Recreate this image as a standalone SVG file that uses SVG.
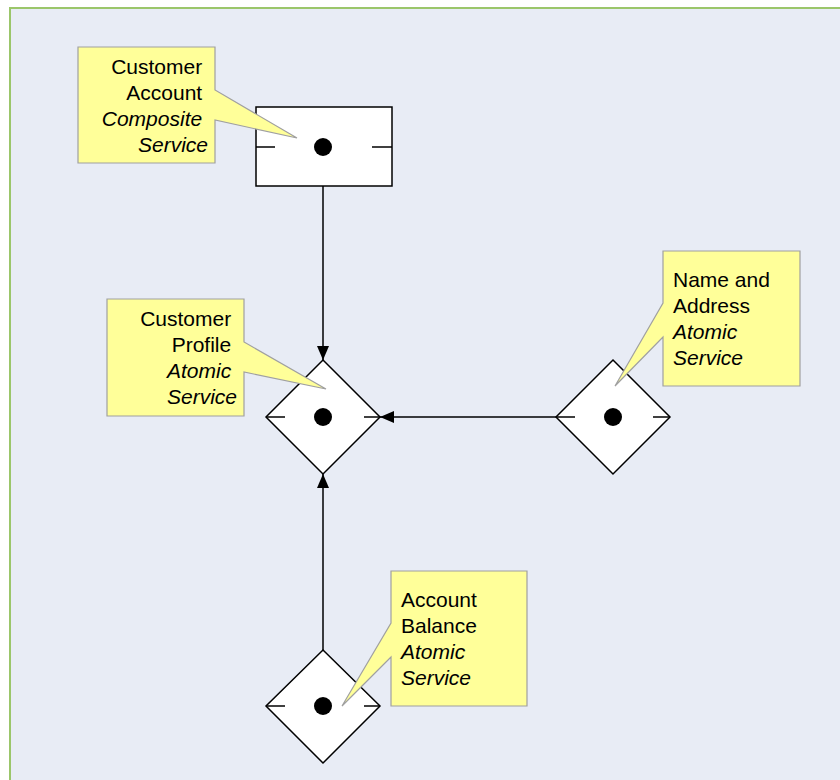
<svg xmlns="http://www.w3.org/2000/svg" width="840" height="780" viewBox="0 0 840 780">
  <style>
    .frame { fill: #e8ecf5; stroke: #9bc66a; stroke-width: 2; }
    .shape { fill: #ffffff; stroke: #000000; stroke-width: 1.5; }
    .tick { stroke: #000000; stroke-width: 1.5; fill: none; }
    .dot { fill: #000000; }
    .note { fill: #ffff99; stroke: #a0a0a0; stroke-width: 1.2; stroke-linejoin: miter; }
    .label { font-family: "Liberation Sans", Arial, sans-serif; font-size: 21px; fill: #000000; }
    .it { font-style: italic; }
    .link { stroke: #000000; stroke-width: 1.5; fill: none; marker-end: url(#arrow); }
  </style>
  <defs>
    <marker id="arrow" viewBox="0 0 14 12" refX="14" refY="6" markerWidth="14" markerHeight="12" markerUnits="userSpaceOnUse" orient="auto">
      <path d="M0,0 L14,6 L0,12 Z" fill="#000000"/>
    </marker>
  </defs>

  <rect class="frame" x="10" y="8" width="840" height="790"/>

  <g id="connectors">
    <line class="link" x1="323" y1="186" x2="323" y2="360"/>
    <line class="link" x1="556" y1="417" x2="380" y2="417"/>
    <line class="link" x1="323" y1="650" x2="323" y2="474"/>
  </g>

  <g id="customer-account">
    <rect class="shape" x="256" y="107" width="136" height="79"/>
    <line class="tick" x1="256" y1="147" x2="275" y2="147"/>
    <line class="tick" x1="372" y1="147" x2="392" y2="147"/>
    <circle class="dot" cx="323" cy="147" r="9"/>
  </g>

  <g id="customer-profile">
    <polygon class="shape" points="323,360 380,417 323,474 266,417"/>
    <line class="tick" x1="267" y1="417" x2="285" y2="417"/>
    <line class="tick" x1="364" y1="417" x2="380" y2="417"/>
    <circle class="dot" cx="323" cy="417" r="9"/>
  </g>

  <g id="name-and-address">
    <polygon class="shape" points="613,360 670,417 613,474 556,417"/>
    <line class="tick" x1="557" y1="417" x2="575" y2="417"/>
    <line class="tick" x1="653" y1="417" x2="670" y2="417"/>
    <circle class="dot" cx="613" cy="417" r="9"/>
  </g>

  <g id="account-balance">
    <polygon class="shape" points="323,650 380,706 323,763 266,706"/>
    <line class="tick" x1="267" y1="706" x2="285" y2="706"/>
    <line class="tick" x1="364" y1="706" x2="380" y2="706"/>
    <circle class="dot" cx="323" cy="706" r="9"/>
  </g>

  <g id="note-customer-account">
    <path class="note" d="M78,47 H215 V90 L297,138 L215,120 V163 H78 Z"/>
    <text class="label" text-anchor="end">
      <tspan x="208" y="74">Customer</tspan>
      <tspan x="208" y="100">Account</tspan>
      <tspan class="it" x="208" y="126">Composite</tspan>
      <tspan class="it" x="208" y="152">Service</tspan>
    </text>
  </g>

  <g id="note-customer-profile">
    <path class="note" d="M107,299 H244 V342 L326,389 L244,372 V416 H107 Z"/>
    <text class="label" text-anchor="end">
      <tspan x="237" y="326">Customer</tspan>
      <tspan x="237" y="352">Profile</tspan>
      <tspan class="it" x="237" y="378">Atomic</tspan>
      <tspan class="it" x="237" y="404">Service</tspan>
    </text>
  </g>

  <g id="note-name-and-address">
    <path class="note" d="M663,251 H800 V386 H663 V337 L615,386 L663,303 Z"/>
    <text class="label">
      <tspan x="673" y="287">Name and</tspan>
      <tspan x="673" y="313">Address</tspan>
      <tspan class="it" x="673" y="339">Atomic</tspan>
      <tspan class="it" x="673" y="365">Service</tspan>
    </text>
  </g>

  <g id="note-account-balance">
    <path class="note" d="M391,571 H527 V706 H391 V657 L342,706 L391,623 Z"/>
    <text class="label">
      <tspan x="401" y="607">Account</tspan>
      <tspan x="401" y="633">Balance</tspan>
      <tspan class="it" x="401" y="659">Atomic</tspan>
      <tspan class="it" x="401" y="685">Service</tspan>
    </text>
  </g>
</svg>
